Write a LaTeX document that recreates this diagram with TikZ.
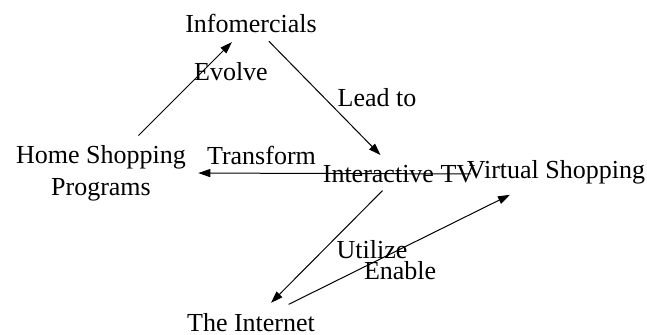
\documentclass[tikz,border=0pt]{standalone}
\usepackage{fontspec}
\setmainfont{Liberation Serif}
\usetikzlibrary{arrows.meta}

\begin{document}
\begin{tikzpicture}[x=0.5pt, y=-0.5pt,
		every node/.style={font=\fontsize{13}{16.2}\selectfont, inner sep=0pt, align=center},
		rel/.style={-{Triangle[length=6pt,width=4pt]}, line width=0.5pt}]
		\useasboundingbox (0,0) rectangle (647,335);
		\node (info) at (251,23) {Infomercials};
		\node (home) at (101,173) {Home Shopping\\Programs};
		\node (itv) at (399,174) {Interactive TV};
		\node (vs) at (556,172) {Virtual Shopping};
		\node (net) at (251,323) {The Internet};
		\draw[rel, shorten <=26.5pt, shorten >=13.5pt] (home.center)
			-- node[pos=0.673, xshift=14.5pt] {Evolve} (info.center);
		\draw[rel, shorten <=12.75pt, shorten >=13.2pt] (info.center)
			-- node[pos=0.497, xshift=26.25pt] {Lead to} (itv.center);
		\draw[rel, shorten <=2.5pt, shorten >=6pt] (itv.east)
			-- node[pos=0.74, yshift=9pt] {Transform} (home.east);
		\draw[rel, shorten <=11.7pt, shorten >=14.2pt] (itv.center)
			-- node[pos=0.51, xshift=24.25pt] {Utilize} (net.center);
		\draw[rel, shorten <=21pt, shorten >=25.7pt] (net.center)
			-- node[pos=0.489, yshift=-10.5pt] {Enable} (vs.center);
\end{tikzpicture}
\end{document}
